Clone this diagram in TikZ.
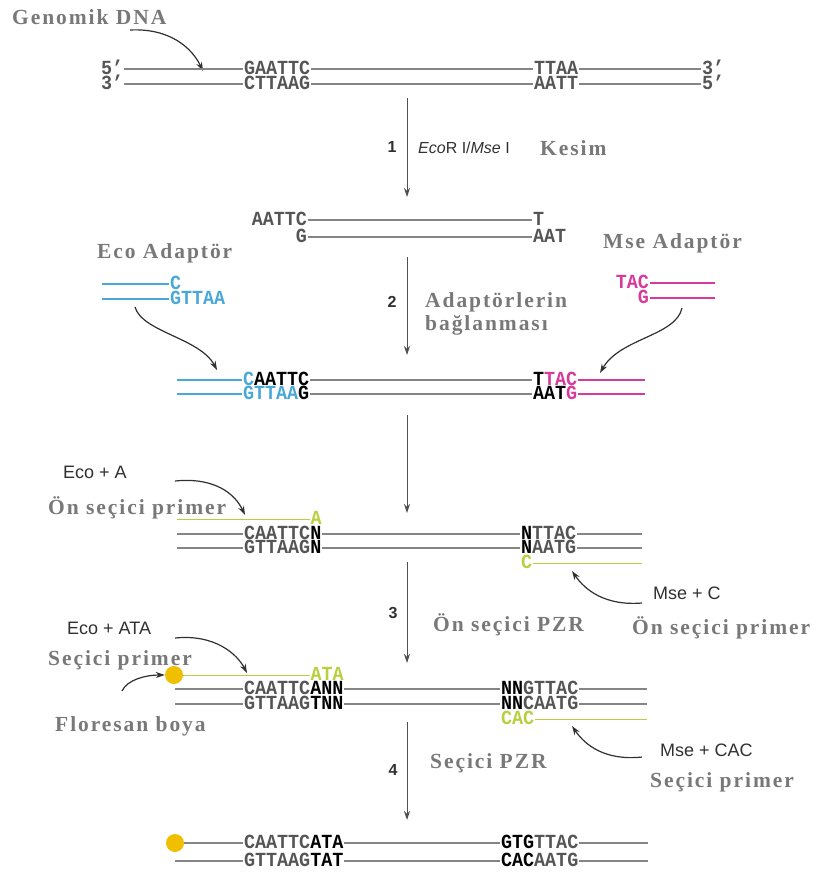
\documentclass[tikz,border=0pt]{standalone}
\usepackage{fontspec}
\setmainfont{Liberation Serif}
\setsansfont{Liberation Sans}
\newfontfamily\labfont[LetterSpace=9]{Liberation Serif}
\newfontfamily\seqfont[FakeStretch=0.92]{Liberation Mono}
\usetikzlibrary{arrows.meta}
\definecolor{blu}{HTML}{4AA8D8}
\definecolor{pnk}{HTML}{D63A9A}
\definecolor{grn}{HTML}{B8D040}
\definecolor{yel}{HTML}{F0C000}
\definecolor{strandc}{HTML}{858585}
\definecolor{seqc}{HTML}{555555}
\definecolor{labc}{HTML}{787878}
\definecolor{sansc}{HTML}{303030}
\definecolor{arrc}{HTML}{505050}
\newcommand{\sqb}[1]{{\color{black}#1}}
\tikzset{
  seq/.style={font=\seqfont\bfseries\fontsize{20}{20}\selectfont, text=seqc, inner xsep=0.8pt, inner ysep=0pt, text height=11.5pt, text depth=0pt, anchor=west},
  strand/.style={draw=strandc, line width=1.6pt},
  bluestrand/.style={draw=blu, line width=1.4pt},
  pinkstrand/.style={draw=pnk, line width=1.4pt},
  primer/.style={draw=grn, line width=1pt},
  lab/.style={font=\labfont\bfseries\fontsize{21.5}{21.5}\selectfont, text=labc, inner sep=0pt, anchor=west},
  sans/.style={font=\sffamily\fontsize{18}{18}\selectfont, text=sansc, inner sep=0pt, anchor=west},
  num/.style={font=\sffamily\bfseries\fontsize{16}{16}\selectfont, text=sansc, inner sep=0pt},
  steparrow/.style={draw=arrc, line width=1pt, -{Stealth[length=9pt,width=6pt]}},
  curarrow/.style={draw=sansc, line width=1.2pt, -{Stealth[length=9pt,width=6pt]}},
  dot/.style={circle, fill=yel, minimum size=18pt, inner sep=0pt}
}
\begin{document}
\begin{tikzpicture}[x=1pt,y=-1pt]
\useasboundingbox (0,0) rectangle (820,874);
% ---------- Row 1: genomic DNA ----------
\node[lab] (gdna) at (12,17) {Genomik DNA};
\coordinate (ga1) at (130,30);
\coordinate (ga2) at (203,71);
\draw[curarrow] (ga1) .. controls (170,28) and (192,48) .. (ga2);
\node[seq] (r1p5) at (100,69) {5’};
\node[seq] (r1t1) at (243,69) {GAATTC};
\node[seq] (r1t2) at (533,69) {TTAA};
\node[seq] (r1p3) at (701,69) {3’};
\draw[strand] (r1p5) -- (r1t1) -- (r1t2) -- (r1p3);
\node[seq] (r1q3) at (100,84) {3’};
\node[seq] (r1b1) at (243,84) {CTTAAG};
\node[seq] (r1b2) at (533,84) {AATT};
\node[seq] (r1q5) at (701,84) {5’};
\draw[strand] (r1q3) -- (r1b1) -- (r1b2) -- (r1q5);
% step 1
\coordinate (s1a) at (407,98);
\coordinate (s1b) at (407,197);
\draw[steparrow] (s1a) -- (s1b);
\node[num] (n1) at (392,147) {1};
\node[sans, font=\sffamily\fontsize{16}{16}\selectfont] (enz) at (418,148) {\textit{Eco}R I/\textit{Mse} I};
\node[lab] (kesim) at (540,148) {Kesim};
% ---------- Row 2: cut fragment ----------
\node[seq, anchor=east] (r2t1) at (308,220) {AATTC};
\node[seq] (r2t2) at (532,220) {T};
\draw[strand] (r2t1) -- (r2t2);
\node[seq, anchor=east] (r2b1) at (308,237) {G};
\node[seq] (r2b2) at (532,237) {AAT};
\draw[strand] (r2b1) -- (r2b2);
% adaptors
\node[lab] (ecoad) at (97,253) {Eco Adaptör};
\coordinate (ea1) at (102,284);
\node[seq, text=blu] (eat) at (169,284) {C};
\draw[bluestrand] (ea1) -- (eat);
\coordinate (ea2) at (102,299);
\node[seq, text=blu] (eab) at (169,299) {GTTAA};
\draw[bluestrand] (ea2) -- (eab);
\node[lab] (msead) at (603,243) {Mse Adaptör};
\node[seq, text=pnk, anchor=east] (mat) at (650,283) {TAC};
\coordinate (ma1) at (715,283);
\draw[pinkstrand] (mat) -- (ma1);
\node[seq, text=pnk, anchor=east] (mab) at (650,298) {G};
\coordinate (ma2) at (715,298);
\draw[pinkstrand] (mab) -- (ma2);
% step 2
\coordinate (s2a) at (407,257);
\coordinate (s2b) at (407,355);
\draw[steparrow] (s2a) -- (s2b);
\node[num] (n2) at (392,302) {2};
\node[lab] (adl1) at (425,302) {Adaptörlerin};
\node[lab] (adl2) at (425,325) {bağlanması};
\coordinate (eca1) at (135,307);
\coordinate (eca2) at (217,370);
\draw[curarrow] (eca1) .. controls (142,332) and (200,338) .. (eca2);
\coordinate (msa1) at (682,308);
\coordinate (msa2) at (600,373);
\draw[curarrow] (msa1) .. controls (676,336) and (620,338) .. (msa2);
% ---------- Row 3: ligated ----------
\coordinate (r3a) at (177,380);
\node[seq] (r3t1) at (242,380) {{\color{blu}C}\sqb{AATTC}};
\node[seq] (r3t2) at (532,380) {\sqb{T}{\color{pnk}TAC}};
\coordinate (r3z) at (645,380);
\draw[bluestrand] (r3a) -- (r3t1);
\draw[strand] (r3t1) -- (r3t2);
\draw[pinkstrand] (r3t2) -- (r3z);
\coordinate (r3c) at (177,394);
\node[seq] (r3b1) at (242,394) {{\color{blu}GTTAA}\sqb{G}};
\node[seq] (r3b2) at (532,394) {\sqb{AAT}{\color{pnk}G}};
\coordinate (r3y) at (645,394);
\draw[bluestrand] (r3c) -- (r3b1);
\draw[strand] (r3b1) -- (r3b2);
\draw[pinkstrand] (r3b2) -- (r3y);
% unnumbered arrow
\coordinate (s0a) at (407,415);
\coordinate (s0b) at (407,513);
\draw[steparrow] (s0a) -- (s0b);
% ---------- Row 4: preselective ----------
\node[sans] (ecoa) at (63,472) {Eco + A};
\node[lab] (onl) at (48,508) {Ön seçici primer};
\coordinate (pa1) at (175,481);
\coordinate (pa2) at (245,515);
\draw[curarrow] (pa1) .. controls (215,477) and (235,494) .. (pa2);
\coordinate (r4g) at (177,519);
\node[seq, text=grn] (r4ga) at (309.6,519) {A};
\draw[primer] (r4g) -- (r4ga);
\coordinate (r4a) at (177,534);
\node[seq] (r4t1) at (243,534) {CAATTC\sqb{N}};
\node[seq] (r4t2) at (520,534) {\sqb{N}TTAC};
\coordinate (r4z) at (642,534);
\draw[strand] (r4a) -- (r4t1) -- (r4t2) -- (r4z);
\coordinate (r4c) at (177,548);
\node[seq] (r4b1) at (243,548) {GTTAAG\sqb{N}};
\node[seq] (r4b2) at (520,548) {\sqb{N}AATG};
\coordinate (r4y) at (642,548);
\draw[strand] (r4c) -- (r4b1) -- (r4b2) -- (r4y);
\node[seq, text=grn] (r4gc) at (520,563) {C};
\coordinate (r4gz) at (642,563);
\draw[primer] (r4gc) -- (r4gz);
\node[sans] (msec) at (653,593) {Mse + C};
\node[lab] (onr) at (632,628) {Ön seçici primer};
\coordinate (pb1) at (642,603);
\coordinate (pb2) at (572,571);
\draw[curarrow] (pb1) .. controls (605,606) and (585,590) .. (pb2);
% step 3
\coordinate (s3a) at (407,562);
\coordinate (s3b) at (407,663);
\draw[steparrow] (s3a) -- (s3b);
\node[num] (n3) at (393,613) {3};
\node[lab] (onpzr) at (433,625) {Ön seçici PZR};
% ---------- Row 5: selective ----------
\node[sans] (ecoata) at (67,628) {Eco + ATA};
\node[lab] (secl) at (48,660) {Seçici primer};
\coordinate (qa1) at (175,638);
\coordinate (qa2) at (247,673);
\draw[curarrow] (qa1) .. controls (215,634) and (237,654) .. (qa2);
\node[dot] (d5) at (174,675) {};
\node[seq, text=grn] (r5ga) at (309.6,675) {ATA};
\draw[primer] (d5) -- (r5ga);
\node[lab] (flo) at (55,726) {Floresan boya};
\coordinate (fa1) at (122,691);
\draw[curarrow] (fa1) .. controls (127,680) and (145,675) .. (d5);
\coordinate (r5a) at (175,689);
\node[seq] (r5t1) at (243,689) {CAATTC\sqb{ANN}};
\node[seq] (r5t2) at (500,689) {\sqb{NN}GTTAC};
\coordinate (r5z) at (647,689);
\draw[strand] (r5a) -- (r5t1) -- (r5t2) -- (r5z);
\coordinate (r5c) at (175,704);
\node[seq] (r5b1) at (243,704) {GTTAAG\sqb{TNN}};
\node[seq] (r5b2) at (500,704) {\sqb{NN}CAATG};
\coordinate (r5y) at (647,704);
\draw[strand] (r5c) -- (r5b1) -- (r5b2) -- (r5y);
\node[seq, text=grn] (r5gc) at (500,719) {CAC};
\coordinate (r5gz) at (647,719);
\draw[primer] (r5gc) -- (r5gz);
\node[sans] (msecac) at (660,750) {Mse + CAC};
\node[lab] (secr) at (650,782) {Seçici primer};
\coordinate (qb1) at (642,757);
\coordinate (qb2) at (572,726);
\draw[curarrow] (qb1) .. controls (605,761) and (585,745) .. (qb2);
% step 4
\coordinate (s4a) at (407,722);
\coordinate (s4b) at (407,820);
\draw[steparrow] (s4a) -- (s4b);
\node[num] (n4) at (393,770) {4};
\node[lab] (secpzr) at (430,763) {Seçici PZR};
% ---------- Row 6: product ----------
\node[dot] (d6) at (175,843) {};
\node[seq] (r6t1) at (243,843) {CAATTC\sqb{ATA}};
\node[seq] (r6t2) at (500,843) {\sqb{GTG}TTAC};
\coordinate (r6z) at (648,843);
\draw[strand] (d6) -- (r6t1) -- (r6t2) -- (r6z);
\coordinate (r6c) at (175,861);
\node[seq] (r6b1) at (243,861) {GTTAAG\sqb{TAT}};
\node[seq] (r6b2) at (500,861) {\sqb{CAC}AATG};
\coordinate (r6y) at (648,861);
\draw[strand] (r6c) -- (r6b1) -- (r6b2) -- (r6y);
\end{tikzpicture}
\end{document}
